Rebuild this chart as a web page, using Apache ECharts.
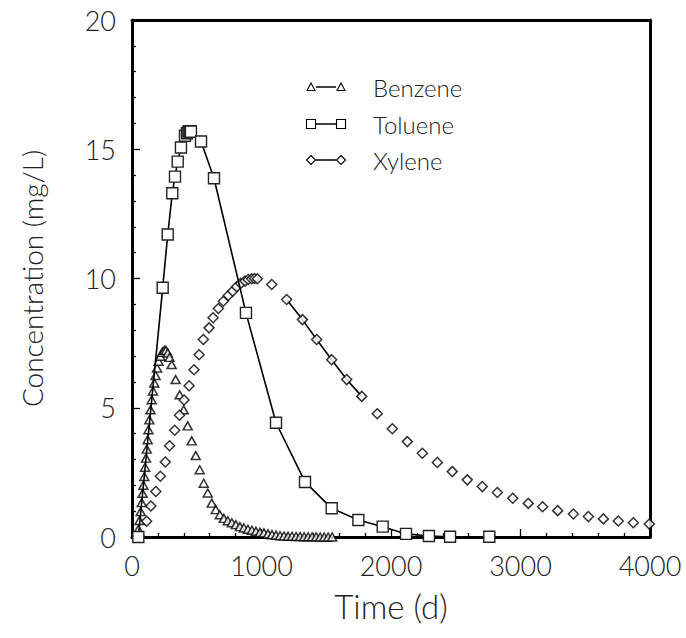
<!DOCTYPE html>
<html>
<head>
<meta charset="utf-8">
<script src="https://cdn.jsdelivr.net/npm/echarts@6/dist/echarts.min.js"></script>
<style>
  html, body { margin: 0; padding: 0; background: #fff; }
  #chart { width: 686px; height: 638px; }
</style>
</head>
<body>
<div id="chart"></div>
<script>
// ---- Data ----
const seriesNames = ['Benzene', 'Toluene', 'Xylene'];

const benzeneTime = [46, 49, 58, 67, 75, 82, 88, 95, 101, 108, 114, 121, 127, 134, 143, 152, 162, 172, 182, 193, 205, 219, 233, 249, 262, 276, 290,
  306, 337, 368, 399, 430, 461, 492, 523, 554, 585, 616, 647, 678, 709, 740, 771, 802, 833, 864, 895, 926, 957, 988, 1019, 1050, 1081, 1112, 1143,
  1174, 1205, 1236, 1267, 1298, 1329, 1360, 1391, 1422, 1453, 1484, 1515, 1546];
const benzeneConc = [0.05, 0.30, 0.64, 0.98, 1.33, 1.69, 2.0, 2.34, 2.7, 3.05, 3.4, 3.76, 4.15, 4.53, 4.92, 5.31, 5.65, 5.96, 6.25, 6.54, 6.8, 6.99, 7.15, 7.22, 7.22, 7.12, 6.95,
  6.67, 6.09, 5.50, 4.92, 4.30, 3.72, 3.15, 2.6, 2.08, 1.7, 1.31, 1.06, 0.86, 0.72, 0.63, 0.55, 0.48, 0.40, 0.35, 0.30, 0.26, 0.22, 0.18, 0.16, 0.12, 0.09, 0.07, 0.05,
  0.04, 0.03, 0.03, 0.02, 0.02, 0.01, 0.01, 0.01, 0.01, 0, 0, 0, 0];

const tolueneTime = [49, 237, 276, 311, 332, 353, 378, 409, 425, 435, 443, 450, 455, 533, 633, 880, 1112, 1336, 1542, 1748, 1936, 2116, 2293, 2456, 2759];
const tolueneConc = [0, 9.64, 11.7, 13.3, 13.94, 14.52, 15.07, 15.52, 15.62, 15.68, 15.7, 15.7, 15.68, 15.3, 13.88, 8.67, 4.42, 2.13, 1.11, 0.66, 0.4, 0.12, 0.04, 0.01, 0.01];

const xyleneTime = [62, 113, 146, 184, 219, 257, 290, 330, 367, 402, 441, 479, 518, 551, 595, 626, 667, 705, 744, 777, 808, 839, 873, 898, 924, 946, 968,
  1079, 1194, 1316, 1426, 1542, 1658, 1774, 1894, 2010, 2126, 2242, 2358, 2473, 2589, 2705, 2821, 2940, 3060, 3171, 3287, 3408, 3524, 3640, 3755, 3871, 3995];
const xyleneConc = [0, 0.61, 1.2, 1.76, 2.35, 2.9, 3.53, 4.13, 4.71, 5.3, 5.85, 6.47, 7.05, 7.64, 8.09, 8.48, 8.84, 9.12, 9.34, 9.51, 9.68, 9.81, 9.9, 9.96, 9.99, 10.0, 9.99,
  9.77, 9.19, 8.41, 7.64, 6.86, 6.09, 5.44, 4.77, 4.19, 3.69, 3.24, 2.88, 2.53, 2.21, 1.95, 1.72, 1.5, 1.3, 1.17, 1.02, 0.89, 0.79, 0.7, 0.62, 0.55, 0.5];
// part of the xylene series that is joined by a line in the reference (first / last index)
const xyleneLineFrom = 28;
const xyleneLineTo = 33;

const xTicks = [0, 1000, 2000, 3000, 4000];
const yTicks = [0, 5, 10, 15, 20];

// ---- Build ----
const pairs = (xs, ys) => xs.map((x, i) => [x, ys[i]]);
const benzene = pairs(benzeneTime, benzeneConc);
const toluene = pairs(tolueneTime, tolueneConc);
const xylene = pairs(xyleneTime, xyleneConc);
const xyleneLine = xylene.slice(xyleneLineFrom, xyleneLineTo + 1);

const FONT = 'Lato, "Liberation Sans", sans-serif';
const FW = 300;
const INK = '#000';
const TXT = '#222';

const chart = echarts.init(document.getElementById('chart'), null, { renderer: 'svg' });

const markerStyle = { color: '#fff', borderColor: '#000', borderWidth: 1.5 };

// legend drawn as graphic rows
function legendRow(y, symbol, name) {
  const lx1 = 311, lx2 = 341;
  const kids = [
    { type: 'line', shape: { x1: lx1 + 5, y1: y, x2: lx2 - 5, y2: y }, style: { stroke: INK, lineWidth: 1.5 } }
  ];
  [lx1, lx2].forEach(cx => {
    if (symbol === 'triangle') {
      kids.push({ type: 'polygon', shape: { points: [[cx, y - 4], [cx + 4, y + 3.5], [cx - 4, y + 3.5]] }, style: { fill: '#fff', stroke: INK, lineWidth: 1.1 } });
    } else if (symbol === 'rect') {
      kids.push({ type: 'rect', shape: { x: cx - 4.5, y: y - 4.5, width: 9, height: 9 }, style: { fill: '#fff', stroke: INK, lineWidth: 1.1 } });
    } else {
      kids.push({ type: 'polygon', shape: { points: [[cx, y - 4.5], [cx + 4.5, y], [cx, y + 4.5], [cx - 4.5, y]] }, style: { fill: '#fff', stroke: INK, lineWidth: 1.1 } });
    }
  });
  kids.push({ type: 'text', style: { x: 373, y: y, text: name, fill: TXT, font: FW + ' 24px ' + FONT, textVerticalAlign: 'middle', textAlign: 'left' } });
  return { type: 'group', children: kids };
}

const option = {
  backgroundColor: '#fff',
  animation: false,
  grid: { left: 132, right: 36, top: 20, bottom: 101 },
  xAxis: [{
    type: 'value', min: 0, max: 4000, interval: 1000,
    name: 'Time (d)', nameLocation: 'middle', nameGap: 52,
    nameTextStyle: { fontFamily: FONT, fontWeight: FW, fontSize: 33, color: TXT },
    axisLine: { show: true, onZero: false, lineStyle: { color: INK, width: 3 } },
    axisTick: { show: true, inside: true, length: 8, lineStyle: { color: INK, width: 1.3 } },
    minorTick: { show: true, splitNumber: 5, length: 4, lineStyle: { color: INK, width: 1.3 } },
    axisLabel: { margin: 15, fontFamily: FONT, fontWeight: FW, fontSize: 27, color: TXT,
      formatter: v => (xTicks.indexOf(v) >= 0 ? String(v) : '') },
    splitLine: { show: false }
  }, {
    type: 'value', min: 0, max: 4000, position: 'top',
    axisLine: { show: true, onZero: false, lineStyle: { color: INK, width: 3 } },
    axisTick: { show: false }, axisLabel: { show: false }, splitLine: { show: false }
  }],
  yAxis: [{
    type: 'value', min: 0, max: 20, interval: 5,
    name: 'Concentration (mg/L)', nameLocation: 'middle', nameGap: 86,
    nameTextStyle: { fontFamily: FONT, fontWeight: FW, fontSize: 28, color: TXT },
    axisLine: { show: true, onZero: false, lineStyle: { color: INK, width: 3 } },
    axisTick: { show: true, inside: true, length: 8, lineStyle: { color: INK, width: 1.3 } },
    minorTick: { show: true, splitNumber: 5, length: 4, lineStyle: { color: INK, width: 1.3 } },
    axisLabel: { margin: 16, fontFamily: FONT, fontWeight: FW, fontSize: 27, color: TXT,
      formatter: v => (yTicks.indexOf(v) >= 0 ? String(v) : '') },
    splitLine: { show: false }
  }, {
    type: 'value', min: 0, max: 20, position: 'right',
    axisLine: { show: true, onZero: false, lineStyle: { color: INK, width: 3 } },
    axisTick: { show: false }, axisLabel: { show: false }, splitLine: { show: false }
  }],
  series: [
    {
      name: 'Xylene line', type: 'line', data: xyleneLine, showSymbol: false, symbol: 'none',
      lineStyle: { color: INK, width: 1.6 }, z: 2, silent: true
    },
    {
      name: 'Benzene', type: 'scatter', data: benzene, symbol: 'triangle', symbolSize: [9, 8],
      itemStyle: markerStyle, z: 3
    },
    {
      name: 'Xylene', type: 'scatter', data: xylene, symbol: 'diamond', symbolSize: 10,
      itemStyle: markerStyle, z: 3
    },
    {
      name: 'Toluene', type: 'line', data: toluene, symbol: 'rect', symbolSize: 11, showAllSymbol: true,
      lineStyle: { color: INK, width: 1.6 }, itemStyle: { color: '#fff', borderColor: '#222', borderWidth: 1.4 }, z: 4
    }
  ],
  graphic: [
    legendRow(87, 'triangle', seriesNames[0]),
    legendRow(124, 'rect', seriesNames[1]),
    legendRow(160, 'diamond', seriesNames[2])
  ]
};
chart.setOption(option);
</script>
</body>
</html>
